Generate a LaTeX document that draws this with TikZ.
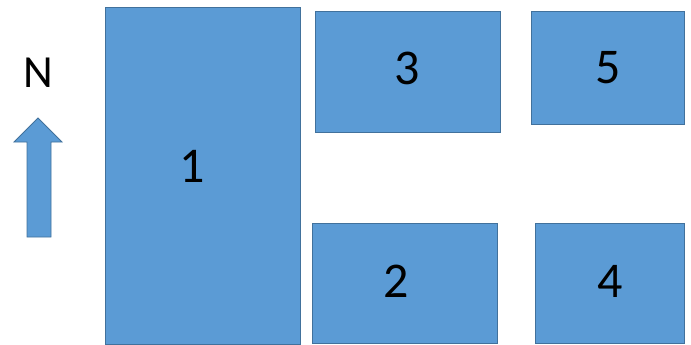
\documentclass[tikz,border=0pt]{standalone}
\usepackage{fontspec}
\setmainfont{Carlito}
\definecolor{boxfill}{HTML}{5B9BD5}
\definecolor{boxline}{HTML}{41719C}
\begin{document}
\begin{tikzpicture}[x=1pt,y=-1pt,
  lot/.style={draw=boxline,fill=boxfill,line width=0.8pt,inner sep=0pt},
  num/.style={inner sep=0pt,font=\fontsize{50}{50}\selectfont}]
\useasboundingbox (0,0) rectangle (691,345);
\node[lot,minimum width=195pt,minimum height=337pt] (b1) at (202.5,175.5) {};
\node[lot,minimum width=185pt,minimum height=121pt] (b3) at (407.5,71.5) {};
\node[lot,minimum width=153pt,minimum height=113pt] (b5) at (607.5,67.5) {};
\node[lot,minimum width=185pt,minimum height=120pt] (b2) at (404.5,283) {};
\node[lot,minimum width=149pt,minimum height=120pt] (b4) at (609.5,283) {};
\node[num] (t1) at (192,166) {1};
\node[num] (t3) at (407,68) {3};
\node[num] (t5) at (608,68) {5};
\node[num] (t2) at (396,281) {2};
\node[num] (t4) at (610,281) {4};
\node[num,font=\fontsize{46}{46}\selectfont] (n) at (38,72.5) {N};
\draw[draw=boxline,fill=boxfill,line width=0.8pt]
  (27,237) -- (27,142) -- (14,142) -- (38,118) -- (62,142) -- (51,142) -- (51,237) -- cycle;
\end{tikzpicture}
\end{document}
